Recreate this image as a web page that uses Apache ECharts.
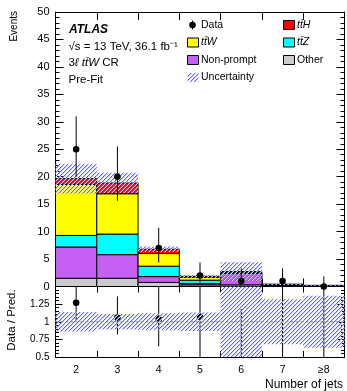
<!DOCTYPE html>
<html>
<head>
<meta charset="utf-8">
<title>3l ttW CR - Number of jets</title>
<script src="https://cdn.jsdelivr.net/npm/echarts@6/dist/echarts.min.js"></script>
<style>
    html, body { margin: 0; padding: 0; background: #fff; }
    #chart { width: 347px; height: 391px; }
</style>
</head>
<body>
<div id="chart"></div>
<script>
// bins (tick labels)
const jetBins = ['2', '3', '4', '5', '6', '7', '\u22658'];

// predicted yields, stacked from the bottom up
const other     = [1.5, 1.5, 0.75, 0.3, 0.3, 0.1, 0.05];
const nonPrompt = [5.7, 4.3, 1.05, 0.25, 2.1, 0.15, 0.08];
const ttZ       = [2.1, 3.75, 1.9, 0.6, 0.1, 0.05, 0.02];
const ttW       = [9.3, 7.35, 2.3, 0.55, 0.15, 0.08, 0.04];
const ttH       = [1.05, 1.95, 0.8, 0.15, 0.05, 0.02, 0.01];

// total uncertainty on the prediction (absolute)
const predUnc = [2.7, 1.85, 0.5, 0.25, 1.7, 0.12, 0.07];

// data with poisson error bars
const dataVal = [25, 20, 7, 2, 1, 1, 0];
const dataHi  = [31, 25.5, 10.7, 4.4, 3.3, 3.3, 1.84];
const dataLo  = [20.0, 15.6, 4.4, 0.7, 0.17, 0.17, 0];

// data / prediction panel
const ratioVal = [1.27, 1.06, 1.04, 1.07, 0.37, 2.5, 0];
const ratioHi  = [1.6, 1.36, 1.6, 2.4, 1.18, 8.3, 9.2];
const ratioLo  = [1.02, 0.82, 0.65, 0.37, 0.06, 0.4, 0];
const ratioUnc = [0.14, 0.11, 0.12, 0.13, 0.63, 0.32, 0.37];
const ratioRef = [1];

const FONT = 'Liberation Sans, Arial, Helvetica, sans-serif';

/**
 * blue "////" hatch used for the uncertainty band
 * drawn pixel by pixel so it stays crisp
 */
function makeHatch() {
    const s = 4;
    const c = document.createElement('canvas');
    c.width = s;
    c.height = s;
    const ctx = c.getContext('2d');
    for (let i = 0; i < s; i++) {
        ctx.fillStyle = '#6464f3';
        ctx.fillRect(i, s - 1 - i, 1, 1);
        ctx.fillStyle = '#cacafb';
        ctx.fillRect((i + 1) % s, s - 1 - i, 1, 1);
    }
    return c;
}
const hatch = { image: makeHatch(), repeat: 'repeat' };

// clip a rect to the grid
function clipRect(r, cs) {
    const x1 = Math.max(r.x, cs.x), x2 = Math.min(r.x + r.width, cs.x + cs.width);
    const y1 = Math.max(r.y, cs.y), y2 = Math.min(r.y + r.height, cs.y + cs.height);
    if (x2 <= x1 || y2 < y1) return null;
    return { x: x1, y: y1, width: x2 - x1, height: y2 - y1 };
}

// one full-width box per bin, between value(1) and value(2)
function binBox(fill, stroke) {
    return function (params, api) {
        const i = api.value(0);
        const w = api.size([1, 0])[0];
        const p0 = api.coord([i, api.value(1)]);
        const p1 = api.coord([i, api.value(2)]);
        const r = clipRect({ x: p0[0] - w / 2, y: p1[1], width: w, height: p0[1] - p1[1] }, params.coordSys);
        if (!r) return null;
        return {
            type: 'rect',
            shape: r,
            style: stroke ? { fill: fill, stroke: stroke, lineWidth: 1 } : { fill: fill }
        };
    };
}

// marker + vertical error bar
function dataPoint(params, api) {
    const cs = params.coordSys;
    const i = api.value(0);
    const c = api.coord([i, api.value(1)]);
    const top = api.coord([i, api.value(2)])[1];
    const bot = api.coord([i, api.value(3)])[1];
    const y1 = Math.max(top, cs.y), y2 = Math.min(bot, cs.y + cs.height);
    const children = [];
    if (y2 > y1) {
        children.push({ type: 'line', shape: { x1: c[0], y1: y1, x2: c[0], y2: y2 }, style: { stroke: '#000', lineWidth: 1 } });
    }
    if (c[1] >= cs.y - 0.5 && c[1] <= cs.y + cs.height + 0.5) {
        children.push({ type: 'circle', shape: { cx: c[0], cy: c[1], r: 3.3 }, style: { fill: '#000' } });
    }
    return { type: 'group', children: children };
}

// dashed line across the ratio panel
function refLine(params, api) {
    const cs = params.coordSys;
    const y = api.coord([0, api.value(1)])[1];
    return {
        type: 'line',
        shape: { x1: cs.x, y1: y, x2: cs.x + cs.width, y2: y },
        style: { stroke: '#8a8a8a', lineWidth: 1, lineDash: [3, 2] }
    };
}

// build stack rows [bin, low, high]
const layers = [
    { name: 'Other', vals: other, color: '#cccccc' },
    { name: 'Non-prompt', vals: nonPrompt, color: '#c660f5' },
    { name: 'ttZ', vals: ttZ, color: '#00ffff' },
    { name: 'ttW', vals: ttW, color: '#ffff00' },
    { name: 'ttH', vals: ttH, color: '#ff0000' }
];
let cum = jetBins.map(() => 0);
layers.forEach(l => {
    l.rows = jetBins.map((b, i) => {
        const lo = cum[i];
        cum[i] += l.vals[i];
        return [i, lo, cum[i]];
    });
});
const predTotal = cum.slice();

const series = [];
layers.forEach(l => {
    series.push({
        type: 'custom', name: l.name, xAxisIndex: 0, yAxisIndex: 0, z: 2,
        renderItem: binBox(l.color, '#000'),
        encode: { x: 0, y: [1, 2] },
        data: l.rows
    });
});
series.push({
    type: 'custom', name: 'Uncertainty', xAxisIndex: 0, yAxisIndex: 0, z: 3,
    renderItem: binBox(hatch),
    encode: { x: 0, y: [1, 2] },
    data: jetBins.map((b, i) => [i, predTotal[i] - predUnc[i], predTotal[i] + predUnc[i]])
});
series.push({
    type: 'custom', name: 'Data', xAxisIndex: 0, yAxisIndex: 0, z: 4,
    renderItem: dataPoint,
    encode: { x: 0, y: 1 },
    data: jetBins.map((b, i) => [i, dataVal[i], dataHi[i], dataLo[i]])
});

// ratio panel
series.push({
    type: 'custom', name: 'Ratio', xAxisIndex: 2, yAxisIndex: 2, z: 2,
    renderItem: dataPoint,
    encode: { x: 0, y: 1 },
    data: jetBins.map((b, i) => [i, ratioVal[i], ratioHi[i], ratioLo[i]])
});
series.push({
    type: 'custom', name: 'RatioUnc', xAxisIndex: 2, yAxisIndex: 2, z: 3,
    renderItem: binBox(hatch),
    encode: { x: 0, y: [1, 2] },
    data: jetBins.map((b, i) => [i, 1 - ratioUnc[i], 1 + ratioUnc[i]])
});
series.push({
    type: 'custom', name: 'Ref', xAxisIndex: 2, yAxisIndex: 2, z: 4,
    renderItem: refLine,
    encode: { x: 0, y: 1 },
    data: ratioRef.map(v => [0, v])
});

const axisLine = { show: true, onZero: false, lineStyle: { color: '#000', width: 1 } };

function xAx(grid, pos, len, labels) {
    return {
        type: 'category', gridIndex: grid, position: pos, data: jetBins,
        boundaryGap: true,
        axisLine: axisLine,
        axisTick: { show: true, inside: true, length: len, lineStyle: { color: '#000' } },
        axisLabel: { show: labels, interval: 0, margin: 8, color: '#000', fontSize: 10.5, fontFamily: FONT },
        splitLine: { show: false }
    };
}
function yAx(grid, pos, min, max, step, major, minor, labels, fs, fmt) {
    return {
        type: 'value', gridIndex: grid, position: pos, min: min, max: max, interval: step,
        axisLine: axisLine,
        axisTick: { show: true, inside: true, length: major, lineStyle: { color: '#000' } },
        minorTick: { show: true, splitNumber: 5, length: minor, lineStyle: { color: '#000' } },
        axisLabel: { show: labels, margin: 6, color: '#000', fontSize: fs, fontFamily: FONT, formatter: fmt },
        splitLine: { show: false }
    };
}

const txt = (x, y, text, extra) => ({
    type: 'text', x: x, y: y,
    style: Object.assign({ text: text, fill: '#000', font: '11px ' + FONT, verticalAlign: 'middle' }, extra || {})
});
const box = (x, y, fill) => ({
    type: 'rect', shape: { x: x, y: y - 4.5, width: 11, height: 9 },
    style: { fill: fill, stroke: '#000', lineWidth: 1 }
});
const it = { fontStyle: 'italic', fontSize: 11.5, fontFamily: FONT };

const option = {
    animation: false,
    backgroundColor: '#fff',
    grid: [
        { left: 55.5, top: 12, width: 289, height: 274.5 },
        { left: 55.5, top: 286.5, width: 289, height: 70.5 }
    ],
    xAxis: [
        xAx(0, 'bottom', 8, false),
        xAx(0, 'top', 8, false),
        xAx(1, 'bottom', 6, true),
        xAx(1, 'top', 6, false)
    ],
    yAxis: [
        yAx(0, 'left', 0, 50, 5, 8, 4, true, 11),
        yAx(0, 'right', 0, 50, 5, 8, 4, false, 11),
        yAx(1, 'left', 0.5, 1.5, 0.25, 7, 3.5, true, 10, v => (v > 1.49 ? '' : String(v))),
        yAx(1, 'right', 0.5, 1.5, 0.25, 7, 3.5, false, 10)
    ],
    series: series,
    graphic: [
        // axis titles
        Object.assign(txt(14.5, 11, 'Events', { align: 'right', font: '10px ' + FONT }), { rotation: Math.PI / 2 }),
        Object.assign(txt(11.7, 320, 'Data / Pred.', { align: 'center', font: '11.5px ' + FONT }), { rotation: Math.PI / 2 }),
        txt(343, 385, 'Number of jets', { align: 'right', font: '12px ' + FONT }),

        // ATLAS label block
        txt(69, 30, 'ATLAS', { font: 'italic bold 12px ' + FONT }),
        txt(68.5, 46.5, '\u221As = 13 TeV, 36.1 fb\u207B\u00B9', { font: '11.5px ' + FONT }),
        txt(68.5, 63, '3{i|\u2113 tt\u0304W} CR', { font: '11.5px ' + FONT, rich: { i: it } }),
        txt(68.5, 79.5, 'Pre-Fit', { font: '11.5px ' + FONT }),

        // legend, column 1
        { type: 'line', shape: { x1: 192.5, y1: 20.5, x2: 192.5, y2: 29.5 }, style: { stroke: '#000', lineWidth: 1 } },
        { type: 'circle', shape: { cx: 192.5, cy: 25, r: 3.3 }, style: { fill: '#000' } },
        txt(201, 25, 'Data', { font: '10.5px ' + FONT }),
        box(187.5, 42.5, '#ffff00'),
        txt(201, 42.5, 'tt\u0304W', { font: 'italic 10.5px ' + FONT }),
        box(187.5, 60, '#c660f5'),
        txt(201, 60, 'Non-prompt', { font: '10.5px ' + FONT }),
        { type: 'rect', shape: { x: 187.5, y: 73, width: 11, height: 9 }, style: { fill: hatch } },
        txt(201, 77.5, 'Uncertainty', { font: '10.5px ' + FONT }),

        // legend, column 2
        box(283.5, 25, '#ff0000'),
        txt(297, 25, 'tt\u0304H', { font: 'italic 10.5px ' + FONT }),
        box(283.5, 42.5, '#00ffff'),
        txt(297, 42.5, 'tt\u0304Z', { font: 'italic 10.5px ' + FONT }),
        box(283.5, 60, '#cccccc'),
        txt(297, 60, 'Other', { font: '10.5px ' + FONT })
    ]
};

const chart = echarts.init(document.getElementById('chart'), null, { renderer: 'canvas' });
chart.setOption(option);
</script>
</body>
</html>
